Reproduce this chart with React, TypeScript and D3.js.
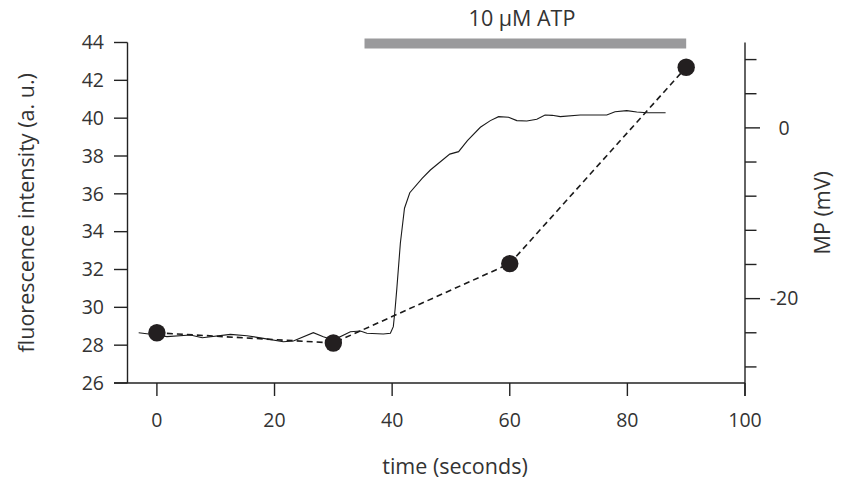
import React from "react";
import * as d3 from "d3";

// ---- data ----
const fluoTime = [-3.1, 0.0, 1.7, 5.7, 7.7, 12.5, 15.3, 18.1, 21.5, 23.2, 26.6, 28.3, 30.0, 32.9, 34.6, 35.7, 38.5, 39.7, 40.2, 40.5, 40.8, 41.4, 42.1, 43.0, 45.1, 46.5, 49.8, 51.3, 52.8, 55.0, 56.7, 58.1, 59.8, 61.2, 62.9, 64.6, 66.0, 67.2, 68.6, 72.0, 76.5, 77.9, 79.9, 81.6, 83.3, 86.5];
const fluoValues = [28.66, 28.54, 28.45, 28.54, 28.39, 28.57, 28.5, 28.36, 28.18, 28.22, 28.66, 28.45, 28.27, 28.71, 28.75, 28.63, 28.59, 28.63, 28.98, 29.9, 31.0, 33.4, 35.24, 36.06, 36.82, 37.26, 38.1, 38.23, 38.81, 39.52, 39.87, 40.08, 40.05, 39.87, 39.85, 39.94, 40.17, 40.15, 40.08, 40.17, 40.17, 40.34, 40.4, 40.33, 40.29, 40.29];

const mpTime = [0, 30, 60, 90];
const mpValues = [-24.0, -25.2, -15.9, 7.1];

const xTicks = [0, 20, 40, 60, 80, 100];
const leftTicks = [26, 28, 30, 32, 34, 36, 38, 40, 42, 44];
const rightTicks = [-28, -24, -20, -16, -12, -8, -4, 0, 4, 8];
const rightLabels = [0, -20];

const atpStart = 35.3;
const atpEnd = 90;
const atpLabel = "10 µM ATP";

export default function App() {
  const W = 855, H = 482;
  const x = d3.scaleLinear().domain([-5, 100]).range([127.5, 745]);
  const yL = d3.scaleLinear().domain([26, 44]).range([383, 42.5]);
  const yR = d3.scaleLinear().domain([-30, 10]).range([384, 42.5]);
  const font = "'Open Sans', sans-serif";
  const fs = 19.5;
  const fl = 21.5;
  const txt = "#333";
  const ax = "#222";

  const fluoLine = d3.line<number>()
    .x((_, i) => x(fluoTime[i]))
    .y((d) => yL(d));
  const mpLine = d3.line<number>()
    .x((_, i) => x(mpTime[i]))
    .y((d) => yR(d));

  const x0 = x(-5), x1 = x(100);
  const yB = yL(26);

  return (
    <div style={{ position: "fixed", left: 0, top: 0 }}>
      <svg width={W} height={H} style={{ display: "block", background: "#fff" }}>
        {/* ATP bar */}
        <rect x={x(atpStart)} y={38.5} width={x(atpEnd) - x(atpStart)} height={10} fill="#9a9a9c" />
        <text x={522} y={25.5} textAnchor="middle" fontFamily={font} fontSize={fl} fill={txt}>{atpLabel}</text>

        {/* left axis */}
        <line x1={x0} x2={x0} y1={yL(44)} y2={yB} stroke={ax} strokeWidth={1.4} />
        {leftTicks.map((t) => (
          <g key={"l" + t}>
            <line x1={x0 - 13.5} x2={x0} y1={yL(t)} y2={yL(t)} stroke={ax} strokeWidth={1.4} />
            <text x={104} y={yL(t)} dy="0.35em" textAnchor="end" fontFamily={font} fontSize={fs} fill={txt}>{t}</text>
          </g>
        ))}
        <text transform={`translate(26,${(yL(44) + yB) / 2}) rotate(-90)`} dy="0.35em" textAnchor="middle" fontFamily={font} fontSize={fl} fill={txt}>fluorescence intensity (a. u.)</text>

        {/* bottom axis */}
        <line x1={x0 - 13.5} x2={x1} y1={yB} y2={yB} stroke={ax} strokeWidth={1.4} />
        {xTicks.map((t) => (
          <g key={"x" + t}>
            <line x1={x(t)} x2={x(t)} y1={yB} y2={yB + 13} stroke={ax} strokeWidth={1.4} />
            <text x={x(t)} y={420} dy="0.35em" textAnchor="middle" fontFamily={font} fontSize={fs} fill={txt}>{t}</text>
          </g>
        ))}
        <text x={455} y={466} dy="0.35em" textAnchor="middle" fontFamily={font} fontSize={fl} fill={txt}>time (seconds)</text>

        {/* right axis */}
        <line x1={x1} x2={x1} y1={yR(10)} y2={yB + 13} stroke={ax} strokeWidth={1.4} />
        {rightTicks.map((t) => (
          <line key={"r" + t} x1={x1} x2={x1 + (rightLabels.includes(t) ? 15 : 11.5)} y1={yR(t)} y2={yR(t)} stroke={ax} strokeWidth={1.4} />
        ))}
        {rightLabels.map((t) => (
          <text key={"rl" + t} x={784} y={yR(t)} dy="0.35em" textAnchor="middle" fontFamily={font} fontSize={fs} fill={txt}>{t}</text>
        ))}
        <text transform={`translate(822,${(yL(44) + yB) / 2}) rotate(-90)`} dy="0.35em" textAnchor="middle" fontFamily={font} fontSize={fl} fill={txt}>MP (mV)</text>

        {/* fluorescence trace */}
        <path d={fluoLine(fluoValues) || ""} fill="none" stroke="#1a1a1a" strokeWidth={1.1} />

        {/* MP dashed line and dots */}
        <path d={mpLine(mpValues) || ""} fill="none" stroke="#1a1a1a" strokeWidth={1.6} strokeDasharray="6,4" />
        {mpValues.map((v, i) => (
          <circle key={"d" + i} cx={x(mpTime[i])} cy={yR(v)} r={8.7} fill="#231f20" />
        ))}
      </svg>
    </div>
  );
}
